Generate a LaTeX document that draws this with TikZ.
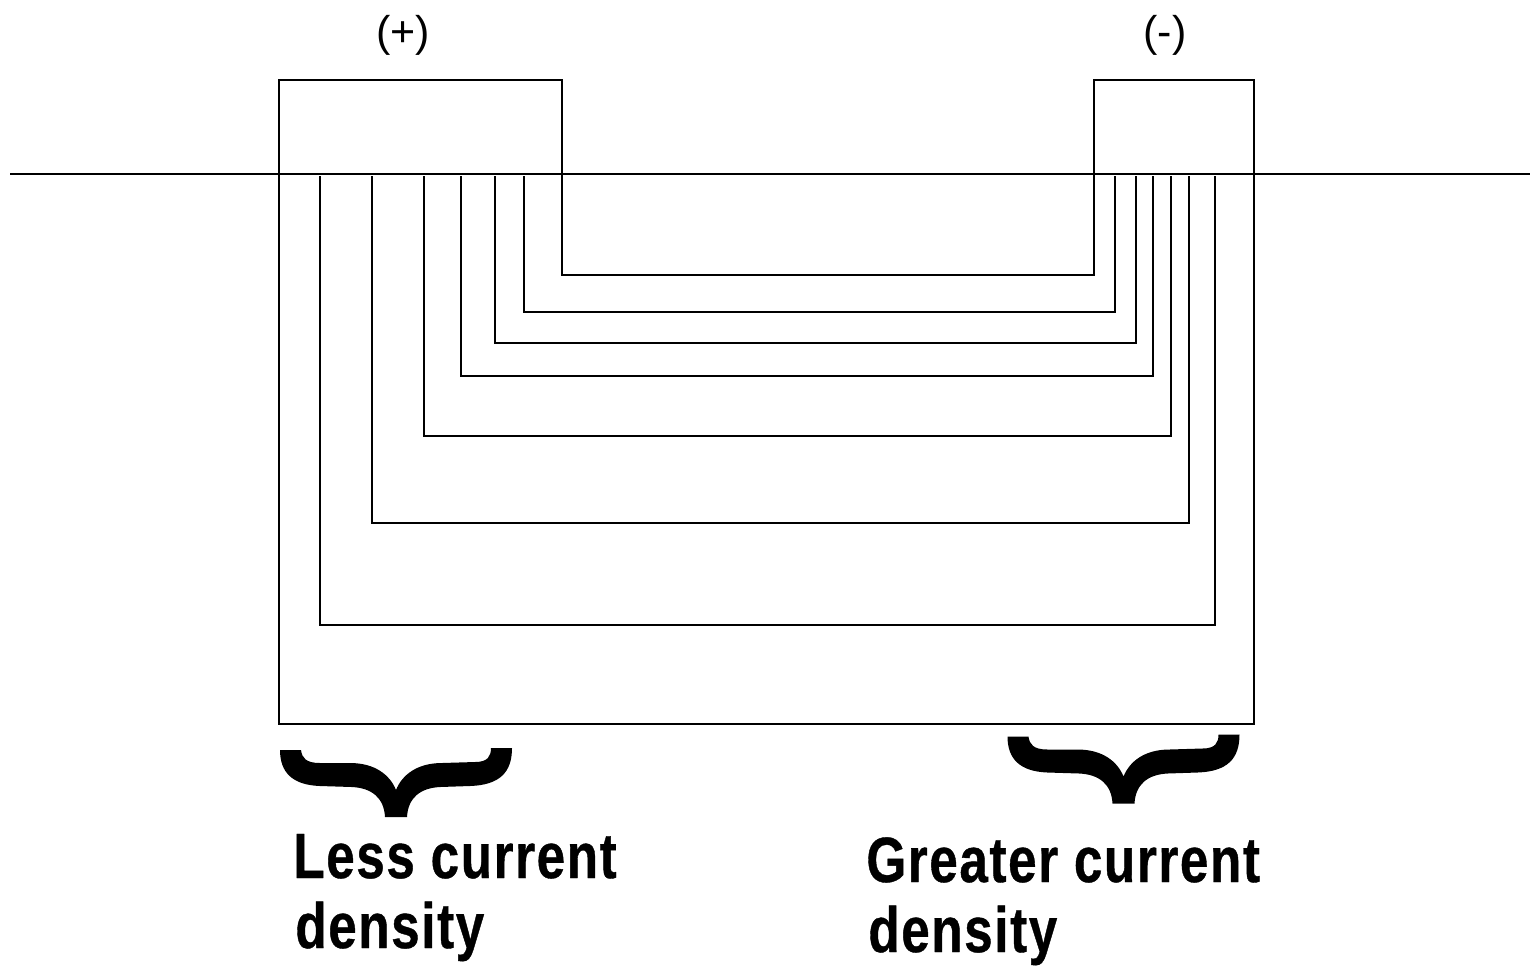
\documentclass[tikz,border=0pt]{standalone}
\usepackage{fontspec}
\setmainfont{Liberation Sans}
\newfontfamily\lblfont[FakeStretch=0.8,FakeBold=0.6,LetterSpace=2.5]{Liberation Sans Bold}
\begin{document}
\begin{tikzpicture}[x=0.5pt,y=-0.5pt,
  ln/.style={line width=0.9pt},
  lbl/.style={font=\lblfont\fontsize{32}{36}\selectfont, inner sep=0, anchor=base west},
  pol/.style={font=\fontsize{21.5}{24}\selectfont, inner sep=0},
  mybrace/.pic={
    \fill (280,750) -- (301,750) .. controls (302,758) and (306,763) .. (320,763)
      -- (350,763) .. controls (375,763) and (390,775) .. (396,790)
      .. controls (402,775) and (417,763) .. (442,763)
      -- (475,762) .. controls (488,762) and (491,756) .. (491,748)
      -- (512,748) .. controls (512,772) and (500,785) .. (470,786)
      -- (440,787) .. controls (420,788) and (408,798) .. (407,817)
      -- (385,817) .. controls (384,798) and (372,788) .. (352,787)
      -- (320,786) .. controls (292,785) and (280,772) .. (280,750) -- cycle;
  }]
\useasboundingbox (0,0) rectangle (1530,971);
\fill[white] (0,0) rectangle (1530,971);
% surface line
\draw[ln] (10,174) -- (1530,174);
% electrodes and outer current path
\draw[ln] (279,724) -- (279,80) -- (562,80) -- (562,275) -- (1094,275)
  -- (1094,80) -- (1254,80) -- (1254,724) -- cycle;
% current lines
\foreach \l/\r/\y in {524/1115/312, 495/1136/343, 461/1153/376,
                      424/1171/436, 372/1189/523, 320/1215/625}
  \draw[ln] (\l,176) |- (\r,\y) -- (\r,176);
% braces
\pic at (0,0) {mybrace};
\pic at (727.5,-13.5) {mybrace};
% labels
\node[pol] (plus) at (403,35) {(+)};
\node[pol] (minus) at (1165,35) {(-)};
\node[lbl] (less1) at (293,878) {Less current};
\node[lbl] (less2) at (295,948) {density};
\node[lbl] (gr1) at (866,882) {Greater current};
\node[lbl] (gr2) at (868,952) {density};
\end{tikzpicture}
\end{document}
